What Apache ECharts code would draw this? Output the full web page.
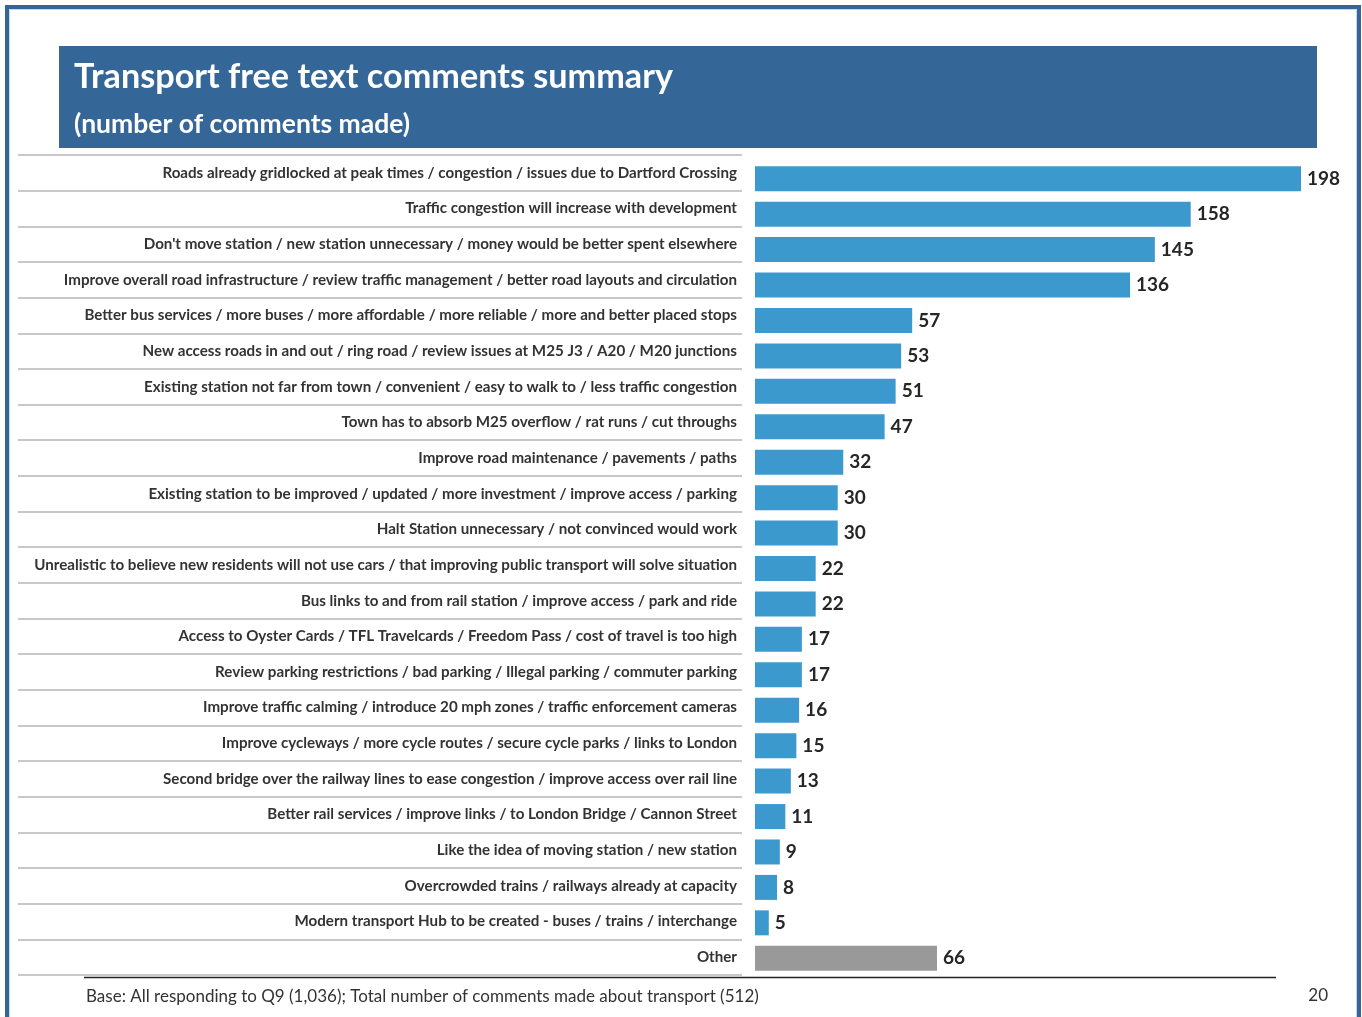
<!DOCTYPE html>
<html>
<head>
<meta charset="utf-8">
<script src="https://cdn.jsdelivr.net/npm/echarts@6/dist/echarts.min.js"></script>
<style>
  html, body { margin: 0; padding: 0; background: #fff; }
  #chart { width: 1362px; height: 1017px; }
</style>
</head>
<body>
<div id="chart"></div>
<script>
// Comment themes, in the order they are listed (top to bottom)
const categories = [
  "Roads already gridlocked at peak times / congestion / issues due to Dartford Crossing",
  "Traffic congestion will increase with development",
  "Don't move station / new station unnecessary / money would be better spent elsewhere",
  "Improve overall road infrastructure / review traffic management / better road layouts and circulation",
  "Better bus services / more buses / more affordable / more reliable / more and better placed stops",
  "New access roads in and out / ring road / review issues at M25 J3 / A20 / M20 junctions",
  "Existing station not far from town / convenient / easy to walk to / less traffic congestion",
  "Town has to absorb M25 overflow / rat runs / cut throughs",
  "Improve road maintenance / pavements / paths",
  "Existing station to be improved / updated / more investment / improve access / parking",
  "Halt Station unnecessary / not convinced would work",
  "Unrealistic to believe new residents will not use cars / that improving public transport will solve situation",
  "Bus links to and from rail station / improve access / park and ride",
  "Access to Oyster Cards / TFL Travelcards / Freedom Pass / cost of travel is too high",
  "Review parking restrictions / bad parking / Illegal parking / commuter parking",
  "Improve traffic calming / introduce 20 mph zones / traffic enforcement cameras",
  "Improve cycleways / more cycle routes / secure cycle parks / links to London",
  "Second bridge over the railway lines to ease congestion / improve access over rail line",
  "Better rail services / improve links / to London Bridge / Cannon Street",
  "Like the idea of moving station / new station",
  "Overcrowded trains / railways already at capacity",
  "Modern transport Hub to be created - buses / trains / interchange",
  "Other"
];

// Number of comments made for each theme
const comments = [198, 158, 145, 136, 57, 53, 51, 47, 32, 30, 30, 22, 22, 17, 17, 16, 15, 13, 11, 9, 8, 5, 66];

// Themes drawn in the neutral colour
const neutralCategories = ["Other"];

const titleText = "Transport free text comments summary";
const subtitleText = "(number of comments made)";
const baseNote = "Base: All responding to Q9 (1,036); Total number of comments made about transport (512)";
const pageNumber = "20";

const BLUE = "#3b99cd";
const GREY = "#999999";
const FRAME = "#346698";

const chart = echarts.init(document.getElementById("chart"), null, { renderer: "canvas" });

chart.setOption({
  animation: false,
  backgroundColor: "#ffffff",
  textStyle: { fontFamily: "Lato, 'Noto Sans', sans-serif" },
  grid: [
    // bars
    { left: 755, right: 61, top: 161, bottom: 41, containLabel: false },
    // theme labels with row rules
    { left: 18, width: 724, top: 155, bottom: 42, containLabel: false }
  ],
  xAxis: [
    { gridIndex: 0, type: "value", min: 0, max: 198, show: false },
    { gridIndex: 1, type: "value", min: 0, max: 1, show: false }
  ],
  yAxis: [
    {
      gridIndex: 0,
      type: "category",
      inverse: true,
      data: categories,
      axisLine: { show: false },
      axisTick: { show: false },
      splitLine: { show: false },
      axisLabel: { show: false }
    },
    {
      gridIndex: 1,
      type: "category",
      inverse: true,
      position: "right",
      data: categories,
      axisLine: { show: false },
      axisTick: { show: false },
      axisLabel: {
        inside: true,
        margin: 5,
        color: "#333333",
        fontSize: 15.15,
        fontWeight: "bold",
        fontFamily: "Lato"
      },
      splitLine: { show: true, lineStyle: { color: "#c8c8c8", width: 2 } }
    }
  ],
  series: [
    {
      type: "bar",
      xAxisIndex: 0,
      yAxisIndex: 0,
      barWidth: 25,
      data: comments.map((v, i) => ({
        value: v,
        itemStyle: { color: neutralCategories.includes(categories[i]) ? GREY : BLUE }
      })),
      label: {
        show: true,
        position: "right",
        distance: 6,
        color: "#262626",
        fontSize: 19,
        fontWeight: "bold",
        fontFamily: "Lato"
      }
    }
  ],
  graphic: [
    // page frame
    {
      type: "rect",
      shape: { x: 7, y: 7, width: 1352, height: 1030 },
      style: { fill: null, stroke: FRAME, lineWidth: 4 },
      silent: true
    },
    {
      type: "rect",
      shape: { x: 9.5, y: 9.5, width: 1347, height: 1030 },
      style: { fill: null, stroke: "#c9d6e6", lineWidth: 1 },
      silent: true
    },
    // title banner
    {
      type: "rect",
      shape: { x: 59, y: 46, width: 1258, height: 102 },
      style: { fill: FRAME },
      silent: true
    },
    {
      type: "text",
      x: 74, y: 77,
      style: {
        text: titleText,
        fill: "#ffffff",
        font: "bold 34.2px Lato",
        textVerticalAlign: "middle"
      },
      silent: true
    },
    {
      type: "text",
      x: 74, y: 124,
      style: {
        text: subtitleText,
        fill: "#ffffff",
        font: "bold 26.5px Lato",
        textVerticalAlign: "middle"
      },
      silent: true
    },
    // footer rule and notes
    {
      type: "line",
      shape: { x1: 84, y1: 977.5, x2: 1276, y2: 977.5 },
      style: { stroke: "#222222", lineWidth: 1.5 },
      silent: true
    },
    {
      type: "text",
      x: 86, y: 997,
      style: {
        text: baseNote,
        fill: "#333333",
        font: "17px Lato",
        textVerticalAlign: "middle"
      },
      silent: true
    },
    {
      type: "text",
      x: 1328, y: 996,
      style: {
        text: pageNumber,
        fill: "#333333",
        font: "17px Lato",
        textAlign: "right",
        textVerticalAlign: "middle"
      },
      silent: true
    }
  ]
});
</script>
</body>
</html>
